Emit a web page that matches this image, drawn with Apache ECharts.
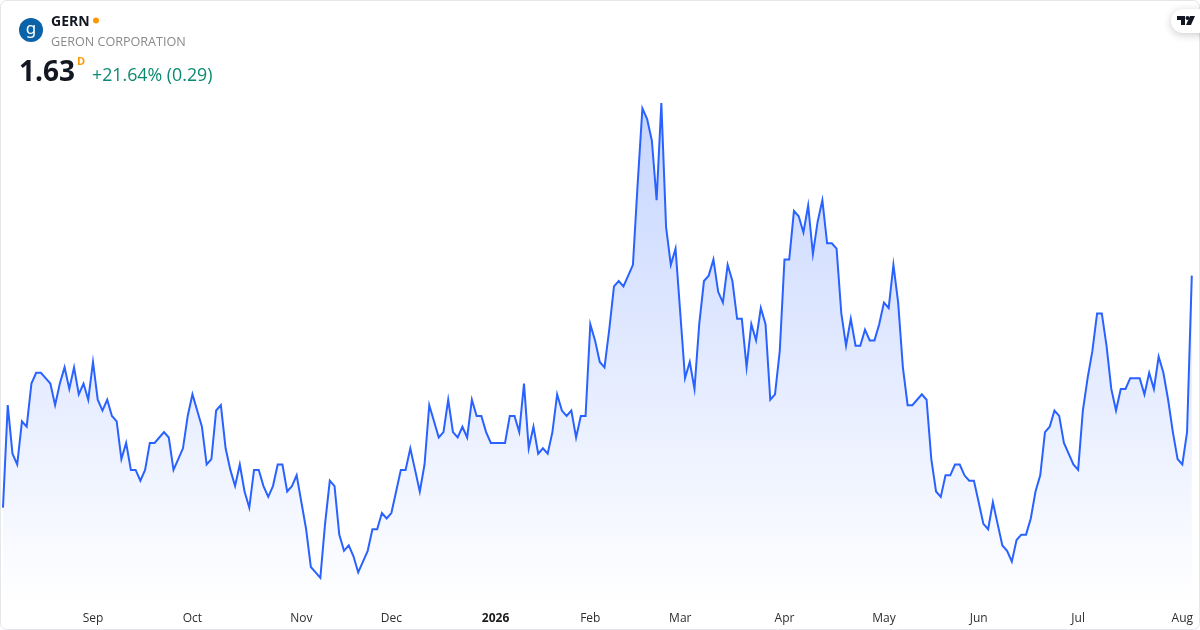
<!DOCTYPE html>
<html><head><meta charset="utf-8">
<style>html,body{margin:0;padding:0;background:#fff}#c{width:1200px;height:630px}</style>
<script src="https://cdn.jsdelivr.net/npm/echarts@6/dist/echarts.min.js"></script>
</head><body><div id="c"></div>
<script>
const symbol = 'GERN';
const companyName = 'GERON CORPORATION';
const lastPrice = '1.63';
const changeText = '+21.64% (0.29)';
const prices = [
1.20,1.39,1.30,1.28,1.36,1.35,1.43,1.45,1.45,1.44,1.43,1.39,1.43,1.46,1.42,1.46,1.41,1.43,1.40,1.47,
1.40,1.38,1.40,1.37,1.36,1.29,1.32,1.27,1.27,1.25,1.27,1.32,1.32,1.33,1.34,1.33,1.27,1.29,1.31,1.37,
1.41,1.38,1.35,1.28,1.29,1.38,1.39,1.31,1.27,1.24,1.28,1.23,1.20,1.27,1.27,1.24,1.22,1.24,1.28,1.28,
1.23,1.24,1.26,1.21,1.16,1.09,1.08,1.07,1.17,1.25,1.24,1.15,1.12,1.13,1.11,1.08,1.10,1.12,1.16,1.16,
1.19,1.18,1.19,1.23,1.27,1.27,1.31,1.27,1.23,1.28,1.39,1.36,1.33,1.34,1.40,1.34,1.33,1.35,1.33,1.40,
1.37,1.37,1.34,1.32,1.32,1.32,1.32,1.37,1.37,1.34,1.43,1.31,1.35,1.30,1.31,1.30,1.34,1.41,1.38,1.37,
1.38,1.33,1.37,1.37,1.54,1.51,1.47,1.46,1.53,1.61,1.62,1.61,1.63,1.65,1.80,1.94,1.92,1.88,1.77,1.95,
1.72,1.65,1.68,1.56,1.44,1.47,1.42,1.54,1.62,1.63,1.66,1.60,1.58,1.65,1.62,1.55,1.55,1.46,1.54,1.51,
1.57,1.54,1.40,1.41,1.49,1.66,1.66,1.75,1.74,1.71,1.76,1.67,1.73,1.77,1.69,1.69,1.68,1.56,1.50,1.55,
1.50,1.50,1.53,1.51,1.51,1.54,1.58,1.57,1.65,1.58,1.46,1.39,1.39,1.40,1.41,1.40,1.29,1.23,1.22,1.26,
1.26,1.28,1.28,1.26,1.25,1.25,1.21,1.17,1.16,1.21,1.17,1.13,1.12,1.10,1.14,1.15,1.15,1.18,1.23,1.26,
1.34,1.35,1.38,1.37,1.32,1.30,1.28,1.27,1.38,1.44,1.49,1.56,1.56,1.50,1.42,1.38,1.42,1.42,1.44,1.44,
1.44,1.41,1.45,1.42,1.48,1.45,1.40,1.34,1.29,1.28,1.34,1.63];
const tickIndexes = [19,40,63,82,104,124,143,165,186,206,227,249];
const tickLabels = ['Sep','Oct','Nov','Dec','2026','Feb','Mar','Apr','May','Jun','Jul','Aug'];
const categories = prices.map((_, i) => {
  const k = tickIndexes.indexOf(i);
  return k >= 0 ? tickLabels[k] : '';
});
const FONT = '"Open Sans","Noto Sans",sans-serif';
const chart = echarts.init(document.getElementById('c'), null, {renderer:'canvas', width:1200, height:630});
chart.setOption({
  animation:false,
  backgroundColor:'#ffffff',
  grid:{left:1.7, right:8.2, top:43.6, bottom:25.2, containLabel:false},
  xAxis:{
    type:'category', data:categories, boundaryGap:false,
    axisLine:{show:false}, axisTick:{show:false}, splitLine:{show:false},
    axisLabel:{
      interval:0, hideOverlap:false, margin:7.5, fontFamily:FONT, fontSize:12, color:'#2e2e2e',
      showMinLabel:true, showMaxLabel:true,
      formatter:v=>v==='2026'?'{b|2026}':v,
      rich:{b:{fontFamily:FONT,fontSize:12,fontWeight:'bold',color:'#1a1a1a'}}
    }
  },
  yAxis:{type:'value', min:1.02, max:2.06, show:false, splitLine:{show:false}},
  series:[{
    type:'line', data:prices, showSymbol:false, symbol:'none', smooth:false,
    lineStyle:{color:'#2962FF', width:2, join:'miter'},
    areaStyle:{color:new echarts.graphic.LinearGradient(0,0,0,1,[
      {offset:0,color:'rgba(41,98,255,0.38)'},
      {offset:1,color:'rgba(41,98,255,0)'}
    ])}
  }],
  graphic:[
    {type:'rect',z:100,shape:{x:0.5,y:0.5,width:1199,height:629,r:6},style:{fill:'none',stroke:'#e4e6ea',lineWidth:1}},
    {type:'circle',z:100,shape:{cx:31,cy:30,r:12},style:{fill:'#0A62A8'}},
    {type:'text',z:101,x:31,y:29,style:{text:'g',fill:'#fff',font:'17px "Noto Sans",sans-serif',align:'center',verticalAlign:'middle'}},
    {type:'text',z:101,x:51,y:22,style:{text:symbol,fill:'#131722',font:'bold 14px '+FONT,verticalAlign:'middle'}},
    {type:'circle',z:101,shape:{cx:96,cy:20.5,r:3},style:{fill:'#FF9800'}},
    {type:'text',z:101,x:51,y:42,style:{text:companyName,fill:'#8a8a8a',font:'12.6px '+FONT,verticalAlign:'middle'}},
    {type:'text',z:101,x:19,y:73,style:{text:lastPrice,fill:'#131722',font:'bold 28px '+FONT,verticalAlign:'middle'}},
    {type:'text',z:101,x:77,y:62,style:{text:'D',fill:'#FF9800',font:'bold 11px '+FONT,verticalAlign:'middle'}},
    {type:'text',z:101,x:92,y:76,style:{text:changeText,fill:'#0A8A72',font:'17.8px '+FONT,verticalAlign:'middle'}},
    {type:'rect',z:101,shape:{x:1171,y:9,width:60,height:24,r:12},style:{fill:'#fff',shadowBlur:9,shadowColor:'rgba(0,0,0,0.2)',shadowOffsetY:2}},
    {type:'polygon',z:103,shape:{points:[[1177,16],[1185,16],[1185,25],[1181,25],[1181,20],[1177,20]]},style:{fill:'#131722'}},
    {type:'circle',z:103,shape:{cx:1187.5,cy:18,r:2},style:{fill:'#131722'}},
    {type:'polygon',z:103,shape:{points:[[1190,16],[1195,16],[1191,25],[1186,25]]},style:{fill:'#131722'}}
  ]
});
</script></body></html>
